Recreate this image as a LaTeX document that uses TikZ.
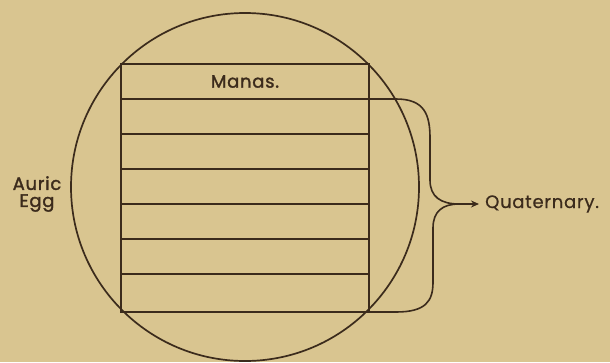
\documentclass[tikz,border=0pt]{standalone}
\usepackage{fontspec}
\usepackage{tikz}
\usetikzlibrary{arrows.meta,positioning}
\newfontfamily\handfont{Poppins}[LetterSpace=4.0,FakeBold=0.6]
\newfontfamily\handbold{Poppins}[LetterSpace=4.0,FakeBold=1.6]
\definecolor{paper}{HTML}{D9C590}
\definecolor{ink}{HTML}{3B2B1C}

\begin{document}
\begin{tikzpicture}[
  x=1pt,y=-1pt,
  font=\handfont\fontsize{18}{17}\selectfont,
  row/.style={rectangle,draw=ink,line width=1.6pt,minimum width=248pt,
              minimum height=35pt,inner sep=0pt,outer sep=0pt},
  egg/.style={circle,draw=ink,line width=1.7pt,minimum size=348pt,inner sep=0pt},
  brace/.style={draw=ink,line width=1.6pt},
  arr/.style={-{Stealth[length=8pt,width=7pt]},draw=ink,line width=1.6pt,shorten >=6pt},
  lbl/.style={text=ink,inner sep=0pt,align=center}
]
\path[use as bounding box,fill=paper] (0,0) rectangle (610,362);

\node[egg] (egg) at (245,187) {};

\node[row,lbl,font=\handbold\fontsize{18}{17}\selectfont] (manas) at (245,81.5) {Manas.};
\node[row,below=0pt of manas] (r2) {};
\node[row,below=0pt of r2] (r3) {};
\node[row,below=0pt of r3] (r4) {};
\node[row,below=0pt of r4] (r5) {};
\node[row,below=0pt of r5] (r6) {};
\node[row,below=0pt of r6,minimum height=38pt] (r7) {};

\node[lbl,font=\handbold\fontsize{18}{17}\selectfont] (auric) at (37,194) {Auric\\Egg};
\node[lbl,anchor=west] (quat) at (485,204) {Quaternary.};
\coordinate (tip) at (459,204);

\draw[brace] (r2.north east) -- (396,99) .. controls (424,99) and (430,114) .. (430,138)
      -- (430,180) .. controls (430,197) and (441,204) .. (tip);
\draw[brace] (r7.south east) -- (396,312) .. controls (426,312) and (433,301) .. (433,282)
      -- (433,228) .. controls (433,211) and (443,204) .. (tip);
\draw[arr] (tip) -- (quat.west);
\end{tikzpicture}
\end{document}
